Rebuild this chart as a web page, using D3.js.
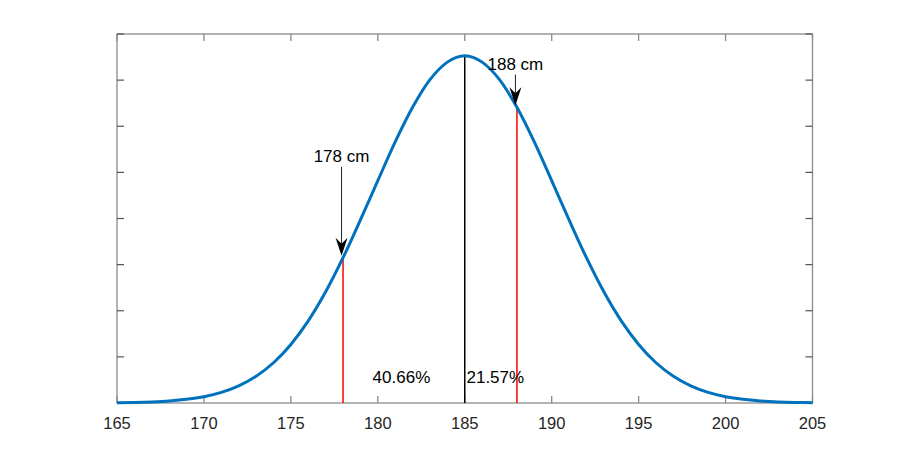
<!DOCTYPE html>
<html><head><meta charset="utf-8">
<script src="https://cdn.jsdelivr.net/npm/d3@7"></script>
<style>body{margin:0;background:#fff}svg{display:block}text{font-family:"Liberation Sans",Arial,sans-serif}</style>
</head><body>
<svg id="c" width="898" height="454"></svg>
<script>
// Heights (cm) and density values
const heights = [165,166,167,168,169,170,171,172,173,174,175,176,177,178,179,180,181,182,183,184,185,186,187,188,189,190,191,192,193,194,195,196,197,198,199,200,201,202,203,204,205];
const density = [0.00006,0.00012,0.00024,0.00044,0.00079,0.00137,0.0023,0.00372,0.0058,0.00873,0.0127,0.0178,0.0241,0.0315,0.0397,0.0482,0.0566,0.0641,0.0701,0.0739,0.0753,0.0739,0.0701,0.0641,0.0566,0.0482,0.0397,0.0315,0.0241,0.0178,0.0127,0.00873,0.0058,0.00372,0.0023,0.00137,0.00079,0.00044,0.00024,0.00012,0.00006];
const xTicks = [165,170,175,180,185,190,195,200,205];
const yTicks = [0,0.01,0.02,0.03,0.04,0.05,0.06,0.07,0.08];
const markers = [{x:178, y:0.0315, label:"178 cm"}, {x:188, y:0.0641, label:"188 cm"}];
const meanX = 185, meanY = 0.0753;
const pctLabels = [{x:179.7, text:"40.66%"}, {x:185.1, text:"21.57%"}];

const svg = d3.select("#c");
const L=117, R=812.5, T=34, B=403;
const x = d3.scaleLinear().domain([165,205]).range([L,R]);
const y = d3.scaleLinear().domain([0,0.08]).range([B,T]);
const axisCol = "#8a8a8a";

// box
svg.append("rect").attr("x",L).attr("y",T).attr("width",R-L).attr("height",B-T)
  .attr("fill","none").attr("stroke",axisCol).attr("stroke-width",1.3);

// x ticks bottom & top
const gx = svg.append("g");
xTicks.forEach(t=>{
  gx.append("line").attr("x1",x(t)).attr("x2",x(t)).attr("y1",B).attr("y2",B-7).attr("stroke",axisCol).attr("stroke-width",1.3);
  gx.append("line").attr("x1",x(t)).attr("x2",x(t)).attr("y1",T).attr("y2",T+7).attr("stroke",axisCol).attr("stroke-width",1.3);
  gx.append("text").attr("x",x(t)).attr("y",B+26).attr("text-anchor","middle").attr("font-size",16.5).attr("fill","#262626").text(t);
});
yTicks.forEach(t=>{
  svg.append("line").attr("x1",L).attr("x2",L+7).attr("y1",y(t)).attr("y2",y(t)).attr("stroke","#555").attr("stroke-width",1.2);
  svg.append("line").attr("x1",R).attr("x2",R-7).attr("y1",y(t)).attr("y2",y(t)).attr("stroke","#555").attr("stroke-width",1.2);
});

// vertical lines
markers.forEach(m=>{
  svg.append("line").attr("x1",x(m.x)).attr("x2",x(m.x)).attr("y1",y(0)).attr("y2",y(m.y)).attr("stroke","#ff0000").attr("stroke-width",1.5);
});
svg.append("line").attr("x1",x(meanX)).attr("x2",x(meanX)).attr("y1",y(0)).attr("y2",y(meanY)).attr("stroke","#000").attr("stroke-width",1.5);

// curve
const line = d3.line().x((d,i)=>x(heights[i])).y(d=>y(d)).curve(d3.curveMonotoneX);
svg.append("path").attr("d",line(density)).attr("fill","none").attr("stroke","#0072BD").attr("stroke-width",3);

// arrows + labels
const arrowStarts = [0.0512, 0.0712];
markers.forEach((m,i)=>{
  const ax = x(m.x)-1.5, y0 = y(arrowStarts[i]), y1 = y(m.y)-2;
  svg.append("line").attr("x1",ax).attr("x2",ax).attr("y1",y0).attr("y2",y1-10).attr("stroke","#222").attr("stroke-width",1);
  svg.append("path").attr("d",`M${ax},${y1} L${ax-6},${y1-18} L${ax},${y1-12} L${ax+6},${y1-18} Z`).attr("fill","#000");
  svg.append("text").attr("x",ax).attr("y",y0-5).attr("text-anchor","middle").attr("font-size",17).attr("fill","#000").text(m.label);
});

pctLabels.forEach(p=>{
  svg.append("text").attr("x",x(p.x)).attr("y",383).attr("font-size",17).attr("fill","#000").text(p.text);
});
</script>
</body></html>
